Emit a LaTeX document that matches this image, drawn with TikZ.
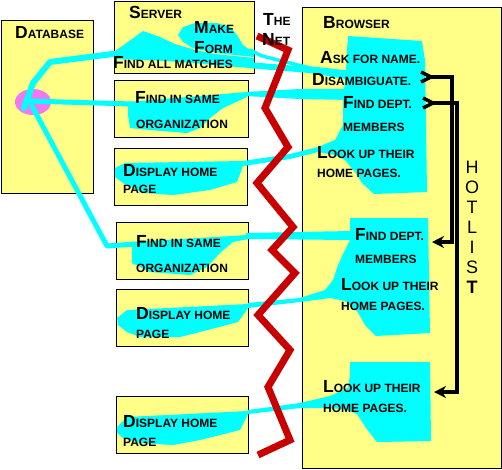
\documentclass[tikz,border=0pt]{standalone}
\usepackage{fontspec}
\setmainfont{Liberation Sans}
\usetikzlibrary{arrows.meta}
\definecolor{byel}{RGB}{255,255,135}
\definecolor{bcyan}{RGB}{0,255,255}
\definecolor{bpink}{RGB}{240,120,240}
\definecolor{bred}{RGB}{200,0,0}
\newcommand{\capsA}[2]{{\fontsize{17.5}{17.5}\selectfont #1}{\fontsize{12}{12}\selectfont #2}}
\newcommand{\capsB}[1]{{\fontsize{12}{12}\selectfont #1}}
\begin{document}
\begin{tikzpicture}[x=1pt,y=-1pt,
  box/.style={fill=byel,draw=black,line width=1.2pt,anchor=north west,inner sep=0pt},
  txt/.style={font=\bfseries,inner sep=0pt,anchor=base west},
  cy/.style={fill=bcyan},
  cyl/.style={draw=bcyan,line cap=round,line join=round},
  netline/.style={draw=bred,line width=7pt,line join=miter,miter limit=4},
  hl/.style={draw=black,line width=3.5pt,line join=miter},
  hlt/.style={font=\fontsize{18}{18}\selectfont,inner sep=0pt,anchor=center}]
\useasboundingbox (0,0) rectangle (502,469);
\fill[white] (0,0) rectangle (502,469);
% boxes
\node[box,minimum width=92pt,minimum height=173pt] (db) at (1,20) {};
\node[box,minimum width=140pt,minimum height=72pt] (srv) at (114,1) {};
\node[box,minimum width=134pt,minimum height=57pt] (org1) at (114,80) {};
\node[box,minimum width=133pt,minimum height=57pt] (disp1) at (114,148) {};
\node[box,minimum width=132pt,minimum height=57pt] (org2) at (116,222) {};
\node[box,minimum width=132pt,minimum height=57pt] (disp2) at (116,289) {};
\node[box,minimum width=132pt,minimum height=57pt] (disp3) at (116,396) {};
\node[box,minimum width=198.5pt,minimum height=461pt] (br) at (302,7) {};
% pink ellipse
\fill[bpink] (33,102) ellipse [x radius=18, y radius=13];
% server blobs
\fill[cy] (114,52) -- (125,44) -- (143,31) -- (160,37) -- (175,44) -- (195,50) -- (215,54) -- (254,58) -- (254,64) -- (114,59) -- cycle;
\fill[cy] (178,35) -- (183,27) -- (195,23) -- (217,23) -- (230,27) -- (237,35) -- (243,45) -- (254,53) -- (254,57) -- (217,53) -- (193,48) -- (183,42) -- cycle;
% database line to disambiguate
\draw[cyl,line width=6pt] (24,108) -- (33,83) -- (50,62) -- (113,54) -- (167,58) -- (227,63) -- (260,66) -- (310,70) -- (346,76);
\draw[cyl,line width=3.5pt] (250,50) -- (262,56) -- (310,68) -- (346,72);
% org1
\draw[cyl,line width=5pt] (28,101) -- (133,104);
\fill[cy] (128,102) -- (247,92) -- (247,97) -- (223,108) -- (210,118) -- (200,128) -- (187,133) -- (150,130) -- (130,128) -- (128,115) -- cycle;
\fill[cy] (245,92) -- (300,89) -- (350,89) -- (350,100) -- (300,99) -- (245,96) -- cycle;
% org2
\draw[cyl,line width=5pt] (32,106) -- (107,246) -- (135,244);
\fill[cy] (132,242) -- (248,235) -- (248,239) -- (233,242) -- (220,253) -- (207,267) -- (190,275) -- (150,272) -- (132,263) -- cycle;
\fill[cy] (246,233) -- (350,231) -- (350,240) -- (246,239) -- cycle;
% display blobs
\fill[cy] (115,168) -- (125,163) -- (243,161) -- (243,166) -- (237,182) -- (210,190) -- (173,195) -- (143,193) -- (123,183) -- (115,177) -- cycle;
\fill[cy] (117,318) -- (127,310) -- (248,304) -- (248,308) -- (238,322) -- (200,332) -- (180,337) -- (140,337) -- (127,332) -- (118,325) -- cycle;
\fill[cy] (117,427) -- (127,417) -- (248,411) -- (248,414) -- (240,430) -- (200,440) -- (173,445) -- (140,443) -- (123,438) -- (117,433) -- cycle;
% browser blobs
\fill[cy] (348,36) -- (422,41) -- (425,60) -- (427,192) -- (374,194) -- (362,183) -- (355,172) -- (345,160) -- (335,155) -- (318,152) -- (290,159) -- (243,166) -- (243,161) -- (290,154) -- (318,147) -- (335,140) -- (343,125) -- (343,100) -- (346,70) -- (347,50) -- cycle;
\fill[cy] (350,218) -- (428,218) -- (430,333) -- (376,336) -- (365,325) -- (357,311) -- (345,301) -- (330,298) -- (300,302) -- (248,308) -- (248,303) -- (300,298) -- (325,290) -- (333,280) -- (338,265) -- (345,250) -- (350,240) -- cycle;
\fill[cy] (350,362) -- (430,362) -- (431,441) -- (377,442) -- (366,428) -- (357,414) -- (345,409) -- (320,408) -- (300,408) -- (248,414) -- (248,410) -- (300,403) -- (330,396) -- (348,388) -- (350,375) -- cycle;
% the net
\draw[netline] (257,36) -- (288,50) -- (265,108) -- (288,147) -- (257,183) -- (293,227) -- (272,250) -- (295,273) -- (258,315) -- (290,350) -- (268,387) -- (290,440) -- (258,455);
% hotlist arrows
\draw[hl] (421,72) -- (431,77) -- (421,82);
\draw[hl,-{Stealth[length=12pt,width=12pt]}] (431,77) -- (452,77) -- (452,242) -- (432,242);
\draw[hl] (423,98) -- (433,103) -- (423,108);
\draw[hl,-{Stealth[length=12pt,width=12pt]}] (433,103) -- (457,103) -- (457,392) -- (434,392);
% texts
\node[txt] (tdb) at (15,38) {\capsA{D}{ATABASE}};
\node[txt] (tsrv) at (129,18) {\capsA{S}{ERVER}};
\node[txt] (tmake) at (194,33) {\capsA{M}{AKE}};
\node[txt] (tform) at (194,53) {\capsA{F}{ORM}};
\node[txt] (tfind) at (113,68) {\capsA{F}{IND ALL MATCHES}};
\node[txt] (tthe) at (263,25) {\capsA{T}{HE}};
\node[txt] (tnet) at (262,45) {\capsA{N}{ET}};
\node[txt] (to1a) at (135,103) {\capsA{F}{IND IN SAME}};
\node[txt] (to1b) at (136,128) {\capsB{ORGANIZATION}};
\node[txt] (td1a) at (123,176) {\capsA{D}{ISPLAY HOME}};
\node[txt] (td1b) at (123,193) {\capsB{PAGE}};
\node[txt] (to2a) at (136,247) {\capsA{F}{IND IN SAME}};
\node[txt] (to2b) at (136,272) {\capsB{ORGANIZATION}};
\node[txt] (td2a) at (136,319) {\capsA{D}{ISPLAY HOME}};
\node[txt] (td2b) at (136,338) {\capsB{PAGE}};
\node[txt] (td3a) at (123,427) {\capsA{D}{ISPLAY HOME}};
\node[txt] (td3b) at (123,446) {\capsB{PAGE}};
\node[txt] (tbr) at (323,28) {\capsA{B}{ROWSER}};
\node[txt] (task) at (320,63) {\capsA{A}{SK FOR NAME.}};
\node[txt] (tdis) at (312,85) {\capsA{D}{ISAMBIGUATE.}};
\node[txt] (tfd1) at (343,108) {\capsA{F}{IND DEPT.}};
\node[txt] (tmem1) at (343,131) {\capsB{MEMBERS}};
\node[txt] (tlu1) at (317,158) {\capsA{L}{OOK UP THEIR}};
\node[txt] (thp1) at (317,177) {\capsB{HOME PAGES.}};
\node[txt] (tfd2) at (355,240) {\capsA{F}{IND DEPT.}};
\node[txt] (tmem2) at (355,263) {\capsB{MEMBERS}};
\node[txt] (tlu2) at (341,290) {\capsA{L}{OOK UP THEIR}};
\node[txt] (thp2) at (341,310) {\capsB{HOME PAGES.}};
\node[txt] (tlu3) at (323,392) {\capsA{L}{OOK UP THEIR}};
\node[txt] (thp3) at (323,412) {\capsB{HOME PAGES.}};
% hotlist
\node[hlt] (h1) at (472,167) {H};
\node[hlt] (h2) at (472,187) {O};
\node[hlt] (h3) at (472,207) {T};
\node[hlt] (h4) at (472,227) {L};
\node[hlt] (h5) at (472,247) {I};
\node[hlt] (h6) at (472,267) {S};
\node[hlt,font=\fontsize{18}{18}\selectfont\bfseries] (h7) at (472,287) {T};
\end{tikzpicture}
\end{document}
